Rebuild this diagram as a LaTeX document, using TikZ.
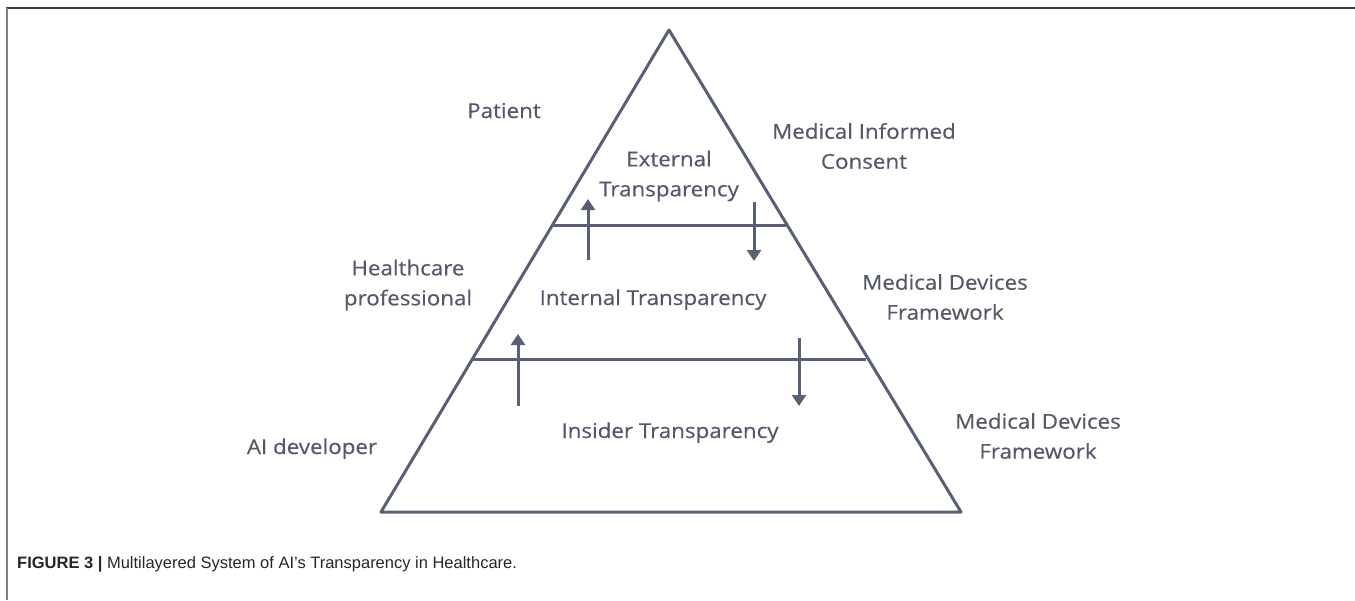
\documentclass[tikz,border=0pt]{standalone}
\usepackage{fontspec}
\setmainfont{Open Sans}[FakeStretch=1.09, FakeBold=0.4]
\newfontfamily\capfont{Liberation Sans}
\usetikzlibrary{arrows.meta}
\definecolor{slate}{HTML}{596076}
\definecolor{txt}{HTML}{545869}
\tikzset{
  layerline/.style={draw=slate, line width=3pt, line join=round},
  flowarrow/.style={draw=slate, line width=3pt, -{Triangle[length=11pt,width=14pt]}},
  lbl/.style={text=txt, font=\fontsize{20.5}{30}\selectfont, align=center, inner sep=0pt},
}
\begin{document}
\begin{tikzpicture}[x=1pt,y=-1pt]
\useasboundingbox (0,0) rectangle (1355,600);
% frame
\draw[draw=black!75, line width=2pt] (6,8) -- (1355,8);
\draw[draw=black!50, line width=2pt] (7,8) -- (7,600);
% pyramid
\coordinate (apex) at (669,30);
\coordinate (bl) at (381,512);
\coordinate (br) at (961,512);
\draw[layerline] (apex) -- (bl) -- (br) -- cycle;
\coordinate (l1a) at (552.5,225);
\coordinate (l1b) at (785.5,225);
\coordinate (l2a) at (472.5,359);
\coordinate (l2b) at (865.5,359);
\draw[layerline] (l1a) -- (l1b);
\draw[layerline] (l2a) -- (l2b);
% arrows
\coordinate (u1s) at (588,260); \coordinate (u1e) at (588,199);
\coordinate (d1s) at (754,202); \coordinate (d1e) at (754,261);
\coordinate (u2s) at (518,406); \coordinate (u2e) at (518,334);
\coordinate (d2s) at (799,338); \coordinate (d2e) at (799,406);
\draw[flowarrow] (u1s) -- (u1e);
\draw[flowarrow] (d1s) -- (d1e);
\draw[flowarrow] (u2s) -- (u2e);
\draw[flowarrow] (d2s) -- (d2e);
% labels
\node[lbl, anchor=base] (patient) at (504,118) {Patient};
\node[lbl] (ext) at (669,176) {External\\Transparency};
\node[lbl] (mic) at (864,146) {Medical Informed\\Consent};
\node[lbl] (hcp) at (408,285) {Healthcare\\professional};
\node[lbl, anchor=base] (int) at (653,305) {Internal Transparency};
\node[lbl] (mdf1) at (945,297) {Medical Devices\\Framework};
\node[lbl, anchor=base] (ins) at (670,438) {Insider Transparency};
\node[lbl, anchor=base] (aid) at (312,454) {AI developer};
\node[lbl] (mdf2) at (1038,436) {Medical Devices\\Framework};
% caption
\node[anchor=base west, inner sep=0pt, text=black!85] (cap) at (17,568)
  {\capfont\fontsize{16.5}{18}\selectfont\textbf{FIGURE 3 |} Multilayered System of AI’s Transparency in Healthcare.};
\end{tikzpicture}
\end{document}
